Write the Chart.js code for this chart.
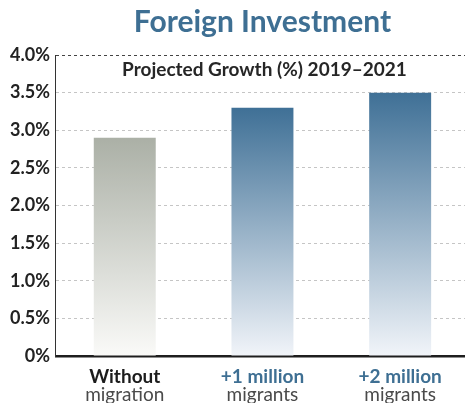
<!DOCTYPE html>
<html>
<head>
<meta charset="utf-8">
<script src="https://cdn.jsdelivr.net/npm/chart.js@4/dist/chart.umd.min.js"></script>
<style>
  html, body { margin: 0; padding: 0; background: #fff; overflow: hidden; }
  #wrap { width: 469px; height: 404px; }
</style>
</head>
<body>
<div id="wrap"><canvas id="chart"></canvas></div>
<script>
const titleText = 'Foreign Investment';
const subtitleText = 'Projected Growth (%) 2019\u20132021';
const labelsTop = ['Without', '+1 million', '+2 million'];
const labelsBottom = ['migration', 'migrants', 'migrants'];
const growth = [2.9, 3.3, 3.5];
const yTicks = [0, 0.5, 1.0, 1.5, 2.0, 2.5, 3.0, 3.5, 4.0];

const BLUE = '#3e6f93';
const topColors = ['#abb0a6', '#3f7096', '#3f7096'];
const bottomColors = ['#fafaf8', '#f1f4f9', '#f1f4f9'];
const labelColors = ['#1c1c1c', BLUE, BLUE];

// subtitle sits inside the plot area, under the 4.0% line
const innerTitle = {
  id: 'innerTitle',
  afterDatasetsDraw(chart) {
    const { ctx, chartArea } = chart;
    ctx.save();
    ctx.font = 'bold 19px Lato';
    ctx.fillStyle = '#262626';
    ctx.textAlign = 'center';
    ctx.textBaseline = 'middle';
    ctx.fillText(subtitleText, (chartArea.left + chartArea.right) / 2 + 2, chartArea.top + 15);
    ctx.restore();
  }
};

function barGradient(c) {
  const chart = c.chart;
  const i = c.dataIndex;
  if (!chart.chartArea) return topColors[i];
  const top = chart.scales.y.getPixelForValue(growth[i]);
  const g = chart.ctx.createLinearGradient(0, top, 0, chart.chartArea.bottom);
  g.addColorStop(0, topColors[i]);
  g.addColorStop(1, bottomColors[i]);
  return g;
}

new Chart(document.getElementById('chart'), {
  type: 'bar',
  data: {
    labels: labelsTop,
    datasets: [{
      data: growth,
      backgroundColor: barGradient,
      borderWidth: 0,
      barPercentage: 0.45,
      categoryPercentage: 1
    }]
  },
  options: {
    responsive: true,
    maintainAspectRatio: false,
    animation: false,
    layout: { padding: { top: 4, left: 4, right: 0, bottom: 1 } },
    plugins: {
      legend: { display: false },
      tooltip: { enabled: false },
      title: {
        display: true,
        text: titleText,
        fullSize: false,
        color: BLUE,
        font: { family: 'Lato', size: 30, weight: 'bold' },
        padding: { top: 0, bottom: 15 }
      }
    },
    scales: {
      x: {
        offset: true,
        // invisible tick marks only to push the first label line down
        grid: {
          display: true,
          drawOnChartArea: false,
          drawTicks: true,
          tickLength: 11,
          color: 'rgba(0,0,0,0)',
          tickColor: 'rgba(0,0,0,0)'
        },
        border: { display: true, color: '#1e1e1e', width: 2.5 },
        ticks: {
          padding: 0,
          color: c => labelColors[c.index],
          font: { family: 'Lato', size: 19, weight: 'bold', lineHeight: 1 }
        }
      },
      // second line of each category label, lighter weight
      x2: {
        type: 'category',
        position: 'bottom',
        labels: labelsBottom,
        offset: true,
        grid: { display: false, drawTicks: false },
        border: { display: false },
        ticks: {
          padding: -1,
          color: '#4a4a4a',
          font: { family: 'Lato', size: 19, weight: 'normal', lineHeight: 1 }
        }
      },
      y: {
        min: 0,
        max: 4,
        z: 1,
        afterBuildTicks: axis => { axis.ticks = yTicks.map(v => ({ value: v })); },
        border: { display: true, color: '#333', width: 1, dash: [3, 3] },
        grid: {
          drawTicks: false,
          color: c => c.tick && c.tick.value === 4 ? '#444' : 'rgba(150,150,150,0.55)',
          lineWidth: 1
        },
        ticks: {
          padding: 6,
          color: '#222',
          font: { family: 'Lato', size: 18, weight: 'bold' },
          callback: v => v === 0 ? '0%' : v.toFixed(1) + '%'
        }
      }
    }
  },
  plugins: [innerTitle]
});
</script>
</body>
</html>
